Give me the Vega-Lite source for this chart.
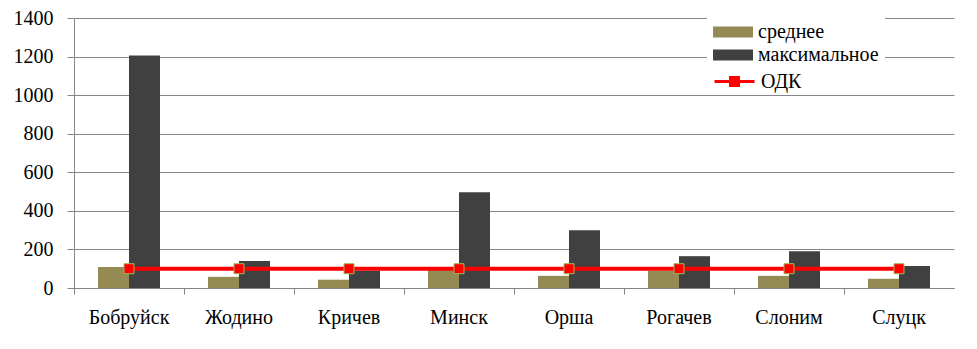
{
  "$schema": "https://vega.github.io/schema/vega-lite/v6.json",
  "width": 880,
  "height": 270,
  "autosize": {"type": "none"},
  "padding": {"left": 74, "top": 18, "right": 23, "bottom": 61},
  "background": "white",
  "config": {
    "view": {"stroke": null},
    "font": "Liberation Serif"
  },
  "datasets": {
    "bars": [
      {"city": "Бобруйск", "type": "среднее", "value": 109},
      {"city": "Бобруйск", "type": "максимальное", "value": 1205},
      {"city": "Жодино", "type": "среднее", "value": 58},
      {"city": "Жодино", "type": "максимальное", "value": 140},
      {"city": "Кричев", "type": "среднее", "value": 43},
      {"city": "Кричев", "type": "максимальное", "value": 90},
      {"city": "Минск", "type": "среднее", "value": 95},
      {"city": "Минск", "type": "максимальное", "value": 496},
      {"city": "Орша", "type": "среднее", "value": 63},
      {"city": "Орша", "type": "максимальное", "value": 300},
      {"city": "Рогачев", "type": "среднее", "value": 90},
      {"city": "Рогачев", "type": "максимальное", "value": 165},
      {"city": "Слоним", "type": "среднее", "value": 63},
      {"city": "Слоним", "type": "максимальное", "value": 191},
      {"city": "Слуцк", "type": "среднее", "value": 48},
      {"city": "Слуцк", "type": "максимальное", "value": 114}
    ],
    "odk": [
      {"city": "Бобруйск", "value": 100},
      {"city": "Жодино", "value": 100},
      {"city": "Кричев", "value": 100},
      {"city": "Минск", "value": 100},
      {"city": "Орша", "value": 100},
      {"city": "Рогачев", "value": 100},
      {"city": "Слоним", "value": 100},
      {"city": "Слуцк", "value": 100}
    ]
  },
  "encoding": {
    "x": {
      "field": "city", "type": "nominal", "sort": null,
      "scale": {"paddingInner": 0, "paddingOuter": 0},
      "axis": {
        "title": null, "labelAngle": 0, "bandPosition": 0,
        "domainColor": "#868686", "tickColor": "#868686", "tickSize": 6,
        "labelFont": "Liberation Serif", "labelFontSize": 20, "labelColor": "black",
        "labelPadding": 13, "grid": false
      }
    },
    "y": {
      "field": "value", "type": "quantitative",
      "scale": {"domain": [0, 1400], "nice": false},
      "axis": {
        "title": null, "values": [0, 200, 400, 600, 800, 1000, 1200, 1400],
        "format": "d", "labelOverlap": false,
        "domainColor": "#868686", "tickColor": "#868686", "tickSize": 7,
        "gridColor": "#868686", "gridWidth": 1,
        "labelFont": "Liberation Serif", "labelFontSize": 20, "labelColor": "black",
        "labelPadding": 14
      }
    }
  },
  "layer": [
    {
      "data": {"name": "bars"},
      "mark": {"type": "bar"},
      "encoding": {
        "xOffset": {
          "field": "type", "type": "nominal", "sort": ["среднее", "максимальное"],
          "scale": {"paddingInner": 0, "paddingOuter": 0.774}
        },
        "color": {
          "field": "type", "type": "nominal", "sort": ["среднее", "максимальное"],
          "scale": {"domain": ["среднее", "максимальное"], "range": ["#948A54", "#404040"]},
          "legend": {
            "title": null, "orient": "none", "legendX": 633, "legendY": -2,
            "symbolType": "M-1,-0.55H3V0.55H-1Z", "symbolSize": 400, "symbolStrokeWidth": 0,
            "labelFont": "Liberation Serif", "labelFontSize": 20, "labelColor": "black",
            "labelOffset": 25, "rowPadding": 3, "padding": 6, "fillColor": "white"
          }
        }
      }
    },
    {
      "data": {"name": "odk"},
      "mark": {"type": "line", "strokeWidth": 4},
      "encoding": {
        "stroke": {
          "datum": "ОДК", "type": "nominal",
          "scale": {"domain": ["ОДК"], "range": ["#FF0000"]},
          "legend": {
            "title": null, "orient": "none", "legendX": 636, "legendY": 49,
            "symbolType": "M-1,0H3M0.6,-0.4H1.4V0.4H0.6Z", "symbolSize": 400,
            "symbolStrokeWidth": 3, "symbolFillColor": "#FF0000",
            "labelFont": "Liberation Serif", "labelFontSize": 20, "labelColor": "black",
            "labelOffset": 25, "padding": 3, "fillColor": "white",
            "symbolOpacity": 1
          }
        }
      }
    },
    {
      "data": {"name": "odk"},
      "mark": {"type": "point", "shape": "square", "filled": true, "fill": "#FF0000", "stroke": "#9BBB59", "strokeWidth": 1, "size": 100, "opacity": 1},
      "encoding": {}
    }
  ]
}
